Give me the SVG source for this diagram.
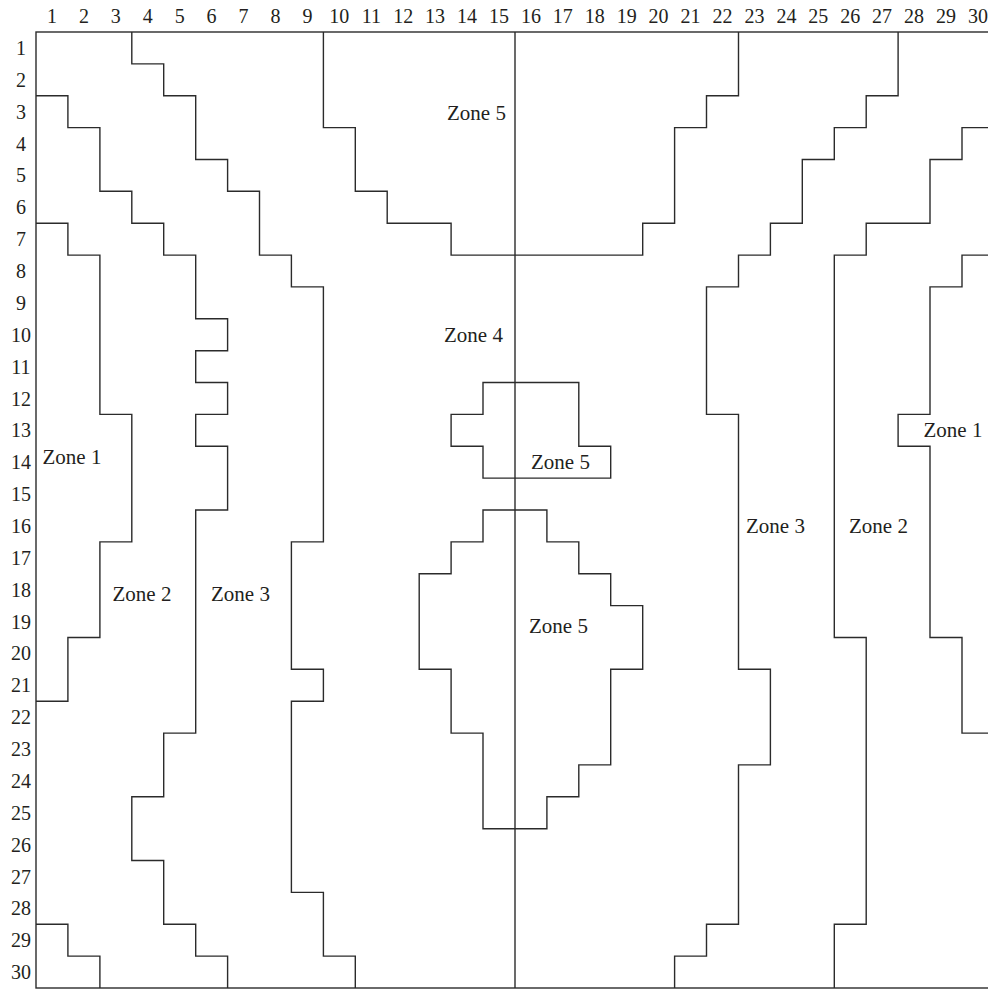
<svg xmlns="http://www.w3.org/2000/svg" width="988" height="989" viewBox="0 0 988 989">
<style>
  .ln { fill: none; stroke: #2b2b2b; stroke-width: 1.4; stroke-linejoin: miter; }
  .ax { font-family: "Liberation Serif", "Times New Roman", serif; font-size: 20px; fill: #231f20; text-anchor: middle; }
  .zl { font-family: "Liberation Serif", "Times New Roman", serif; font-size: 21px; fill: #231f20; text-anchor: middle; }
</style>
<rect width="988" height="989" fill="#ffffff"/>
<g id="axis-columns" class="ax">
  <text x="52" y="23">1</text><text x="83.9" y="23">2</text><text x="115.8" y="23">3</text><text x="147.8" y="23">4</text><text x="179.7" y="23">5</text>
  <text x="211.6" y="23">6</text><text x="243.5" y="23">7</text><text x="275.5" y="23">8</text><text x="307.4" y="23">9</text><text x="339.3" y="23">10</text>
  <text x="371.3" y="23">11</text><text x="403.2" y="23">12</text><text x="435.1" y="23">13</text><text x="467.1" y="23">14</text><text x="499" y="23">15</text>
  <text x="530.9" y="23">16</text><text x="562.8" y="23">17</text><text x="594.8" y="23">18</text><text x="626.7" y="23">19</text><text x="658.6" y="23">20</text>
  <text x="690.6" y="23">21</text><text x="722.5" y="23">22</text><text x="754.4" y="23">23</text><text x="786.4" y="23">24</text><text x="818.3" y="23">25</text>
  <text x="850.2" y="23">26</text><text x="882.1" y="23">27</text><text x="914.1" y="23">28</text><text x="946" y="23">29</text><text x="977.9" y="23">30</text>
</g>
<g id="axis-rows" class="ax">
  <text x="21" y="55">1</text><text x="21" y="86.8">2</text><text x="21" y="118.7">3</text><text x="21" y="150.5">4</text><text x="21" y="182.4">5</text>
  <text x="21" y="214.3">6</text><text x="21" y="246.1">7</text><text x="21" y="278">8</text><text x="21" y="309.9">9</text><text x="21" y="341.7">10</text>
  <text x="21" y="373.6">11</text><text x="21" y="405.5">12</text><text x="21" y="437.3">13</text><text x="21" y="469.2">14</text><text x="21" y="501.1">15</text>
  <text x="21" y="532.9">16</text><text x="21" y="564.8">17</text><text x="21" y="596.7">18</text><text x="21" y="628.5">19</text><text x="21" y="660.4">20</text>
  <text x="21" y="692.3">21</text><text x="21" y="724.1">22</text><text x="21" y="756">23</text><text x="21" y="787.9">24</text><text x="21" y="819.7">25</text>
  <text x="21" y="851.6">26</text><text x="21" y="883.5">27</text><text x="21" y="915.3">28</text><text x="21" y="947.2">29</text><text x="21" y="979.1">30</text>
</g>
<g id="frame">
  <rect class="ln" x="36" y="32" width="957.9" height="956"/>
  <path class="ln" d="M515,32 V988"/>
</g>
<g id="boundaries">
  <path id="b-left-z3z4" class="ln" d="M131.8,32 V63.9 H163.7 V95.7 H195.7 V159.5 H227.6 V191.3 H259.5 V255.1 H291.4 V286.9 H323.4 V541.9 H291.4 V669.3 H323.4 V701.2 H291.4 V892.4 H323.4 V956.1 H355.3 V988"/>
  <path id="b-left-z2z3" class="ln" d="M36,95.7 H67.9 V127.6 H99.9 V191.3 H131.8 V223.2 H163.7 V255.1 H195.7 V318.8 H227.6 V350.7 H195.7 V382.5 H227.6 V414.4 H195.7 V446.3 H227.6 V510 H195.7 V733.1 H163.7 V796.8 H131.8 V860.5 H163.7 V924.3 H195.7 V956.1 H227.6 V988"/>
  <path id="b-left-z1z2" class="ln" d="M36,223.2 H67.9 V255.1 H99.9 V414.4 H131.8 V541.9 H99.9 V637.5 H67.9 V701.2 H36"/>
  <path id="b-left-bottom" class="ln" d="M36,924.3 H67.9 V956.1 H99.9 V988"/>
  <path id="b-top-z5" class="ln" d="M323.4,32 V127.6 H355.3 V191.3 H387.2 V223.2 H451.1 V255.1 H642.7 V223.2 H674.6 V127.6 H706.5 V95.7 H738.5 V32"/>
  <path id="b-right-z3z4" class="ln" d="M898.1,32 V95.7 H866.2 V127.6 H834.3 V159.5 H802.3 V223.2 H770.4 V255.1 H738.5 V286.9 H706.5 V414.4 H738.5 V669.3 H770.4 V764.9 H738.5 V924.3 H706.5 V956.1 H674.6 V988"/>
  <path id="b-right-z2z3" class="ln" d="M993.9,127.6 H962 V159.5 H930 V223.2 H866.2 V255.1 H834.3 V637.5 H866.2 V924.3 H834.3 V988"/>
  <path id="b-right-z1z2" class="ln" d="M993.9,255.1 H962 V286.9 H930 V414.4 H898.1 V446.3 H930 V637.5 H962 V733.1 H993.9"/>
  <path id="b-mid-z5" class="ln" d="M483,382.5 H578.8 V446.3 H610.7 V478.1 H483 V446.3 H451.1 V414.4 H483 Z"/>
  <path id="b-low-z5" class="ln" d="M483,510 H546.9 V541.9 H578.8 V573.7 H610.7 V605.6 H642.7 V669.3 H610.7 V764.9 H578.8 V796.8 H546.9 V828.7 H483 V733.1 H451.1 V669.3 H419.2 V573.7 H451.1 V541.9 H483 Z"/>
</g>
<g id="zone-labels" class="zl">
  <text x="476.5" y="120">Zone 5</text>
  <text x="473.5" y="342">Zone 4</text>
  <text x="72" y="464">Zone 1</text>
  <text x="142" y="601">Zone 2</text>
  <text x="240.5" y="601">Zone 3</text>
  <text x="560.5" y="469">Zone 5</text>
  <text x="558.5" y="633">Zone 5</text>
  <text x="775.5" y="533">Zone 3</text>
  <text x="878.5" y="533">Zone 2</text>
  <text x="953" y="437">Zone 1</text>
</g>
</svg>
